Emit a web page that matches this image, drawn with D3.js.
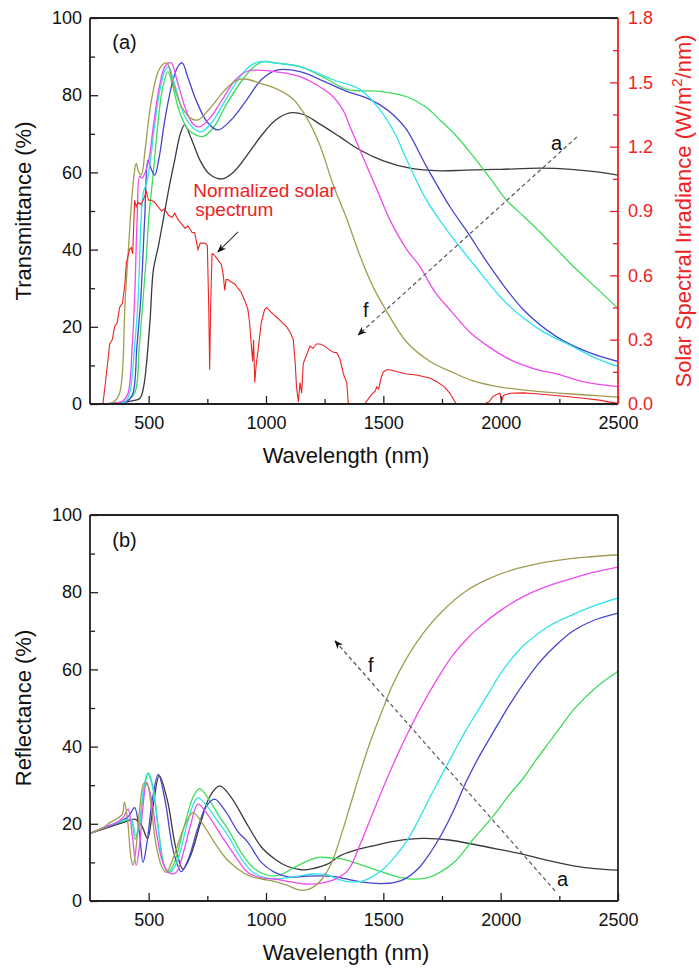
<!DOCTYPE html>
<html>
<head>
<meta charset="utf-8">
<script src="https://cdn.jsdelivr.net/npm/d3@7"></script>
<style>
  body { margin: 0; background: #fff; }
  svg text { font-family: "Liberation Sans", Arial, sans-serif; }
</style>
</head>
<body>
<div id="chart"></div>
<script>
// 1: DATA (wavelength nm, value)
const transA = [[300,0],[380,0.3],[430,0.8],[463,1.5],[480,5],[491,10.6],[506,21.8],[520,34.7],[541,40.8],[562,47.7],[590,57],[611,63.2],[635,70],[653,72.3],[680,69],[720,63],[760,59.5],[810,58.3],[860,60],[920,64.5],[980,69.5],[1040,73.5],[1102,75.4],[1160,75],[1230,72.5],[1315,69.2],[1400,65.8],[1500,63],[1614,61.1],[1741,60.4],[1850,60.6],[2000,60.8],[2168,61.1],[2300,60.8],[2400,60.2],[2500,59.3]];
const transB = [[300,0],[360,0.2],[400,0.6],[440,2.8],[460,15],[476,27],[490,38],[501,48.5],[520,60],[540,73],[560,82],[582,86.1],[600,83],[630,76],[670,71],[731,69.3],[780,72],[830,77.5],[900,84],[950,87.5],[988,88.7],[1050,88.3],[1145,87.4],[1250,84.5],[1344,81.5],[1486,81],[1600,79.6],[1680,77],[1741,73.6],[1810,69.5],[1884,64.1],[1955,58.5],[2025,52.8],[2100,48.5],[2168,44.5],[2240,40],[2310,35.6],[2400,30.5],[2500,24.8]];
const transC = [[300,0],[360,0.2],[410,0.8],[433,2.8],[450,15],[466,27],[483,48],[497,63.2],[510,61],[526,59.3],[545,64],[570,74],[600,83],[625,87.5],[643,88.4],[665,85],[700,79],[750,73],[795,71],[850,73.5],[920,79],[980,84],[1045,86.5],[1145,86.1],[1250,83.5],[1344,81],[1420,79.5],[1486,77.5],[1550,74.5],[1600,71],[1684,61.5],[1784,51.1],[1862,44.2],[1955,35.6],[2097,24.4],[2239,17.4],[2370,13.5],[2500,11]];
const transD = [[300,0],[360,0.2],[400,0.6],[419,2.8],[440,15],[455,27],[468,48],[478,55],[490,57],[505,62],[525,72],[550,82],[570,86.5],[585,87.4],[610,83],[650,75],[690,71.5],[724,70.5],[770,73],[820,78],[880,84],[930,87.5],[975,88.7],[1040,88.3],[1145,87.4],[1286,84],[1400,81.5],[1486,76.2],[1550,70],[1600,63.2],[1684,52.8],[1770,45.1],[1882,36.4],[2025,26.1],[2168,19.2],[2310,14.8],[2400,12],[2500,9.7]];
const transE = [[300,0],[350,0.2],[390,0.8],[412,2.8],[430,15],[440,27],[451,48],[462,59],[472,58.5],[485,60],[500,63],[520,72],[545,82],[570,87.5],[596,88.4],[620,84],[660,76],[690,72.5],[717,71.8],[760,74],[810,78.5],[870,84],[920,86.2],[960,86.5],[1050,86],[1145,84.8],[1220,82.5],[1286,79.6],[1328,76.2],[1358,71.8],[1420,63],[1480,54.5],[1528,47.7],[1600,40],[1656,35.6],[1720,29],[1790,24],[1870,18.5],[1950,14.8],[2040,11.5],[2150,9],[2239,7.8],[2350,5.8],[2500,4.5]];
const transF = [[300,0],[350,0.5],[376,2.8],[400,27],[422,48],[437,59],[447,62.3],[458,60],[469,59.3],[485,66],[510,78],[540,86],[565,88.2],[579,88.3],[600,84],[640,77],[680,74],[710,73.6],[760,76.5],[820,81],[870,83.7],[910,84.2],[980,83],[1050,81.5],[1115,79],[1170,74.5],[1230,67],[1285,57],[1344,48],[1400,38.5],[1456,30.4],[1500,25.5],[1600,16],[1700,11],[1784,8.5],[1882,6],[2000,4.4],[2168,3.2],[2350,2.4],[2500,1.8]];

const reflA = [[250,17.5],[300,18.5],[350,19.5],[400,20.5],[440,21.2],[470,19.5],[495,16.2],[520,25],[545,32.5],[580,26],[615,14],[646,8.3],[680,12],[720,20],[760,27],[802,29.8],[850,27],[923,19.5],[980,14],[1037,10.9],[1090,9],[1150,8.1],[1200,8.4],[1264,9.6],[1315,11.7],[1400,13.5],[1457,14.3],[1550,15.5],[1670,16.2],[1780,15.8],[1883,14.7],[2000,13.3],[2096,12.1],[2200,10.5],[2310,9.1],[2400,8.4],[2500,8]];
const reflB = [[250,17.5],[300,18.7],[350,19.8],[400,20.8],[425,21],[442,16],[460,20],[480,29],[499,33.2],[520,29],[545,17],[565,9.5],[582,7.4],[610,10],[650,19],[690,27],[717,29.1],[760,26],[800,22],[838,18.6],[900,12],[952,8.3],[1000,6.8],[1037,6.5],[1080,7.3],[1122,8.7],[1170,10.2],[1222,11.3],[1270,11.2],[1321,10.9],[1400,9.5],[1457,8.3],[1530,6.8],[1600,5.8],[1680,5.9],[1741,7.4],[1810,10.5],[1883,16],[1968,22],[2030,27],[2096,31.8],[2150,36.5],[2208,41.2],[2260,45.5],[2310,49.5],[2400,55],[2500,59.5]];
const reflC = [[250,17.5],[300,18.7],[350,19.8],[384,20.7],[415,22],[440,24.2],[460,18],[476,10],[495,16],[515,26],[541,32.8],[570,26],[605,13],[639,7.6],[670,11],[710,19],[745,24.5],[781,26.4],[830,23],[880,18],[923,15.2],[980,10],[1037,7.4],[1100,6.2],[1160,6.4],[1236,6.5],[1290,6.3],[1350,5.6],[1420,4.8],[1486,4.5],[1550,4.8],[1600,6],[1650,8.5],[1700,12.5],[1750,17.5],[1800,23.5],[1850,30.5],[1900,36.5],[1950,41.8],[2000,47],[2050,52],[2100,56.5],[2168,62],[2240,66.5],[2310,70],[2400,72.8],[2500,74.6]];
const reflD = [[250,17.5],[300,18.8],[350,20],[400,21],[425,21.2],[445,17],[462,20],[478,29],[495,33],[515,30],[540,19],[562,10],[590,7.4],[620,10],[660,19],[690,25],[710,26.8],[750,24.5],[790,21],[838,16.9],[900,10.5],[950,7.2],[1037,5.7],[1120,6.3],[1200,7],[1260,6.8],[1300,5.8],[1349,5],[1400,5],[1450,6.2],[1500,8.3],[1550,11.5],[1600,15.5],[1650,21],[1700,27],[1750,32.8],[1800,38.5],[1850,44],[1900,49],[1950,54],[2000,59],[2050,63],[2100,66.3],[2200,71],[2300,74],[2400,76.5],[2500,78.5]];
const reflE = [[250,17.5],[300,18.8],[350,20],[390,21.5],[412,23.8],[430,17],[447,9.3],[462,15],[475,24],[491,30.7],[510,27],[535,17],[560,10],[590,7.2],[617,7.4],[650,13],[680,20],[710,25.1],[750,22.5],[810,16.9],[870,11.5],[923,7.4],[980,6],[1037,5.7],[1100,5],[1164,4.4],[1220,4.5],[1264,5],[1300,5.8],[1350,8],[1400,14.5],[1450,22],[1500,29.5],[1550,36.5],[1600,43],[1650,49],[1700,54.5],[1750,59.5],[1800,64],[1850,67.5],[1900,70.5],[2000,75.3],[2100,79],[2200,81.6],[2300,83.5],[2400,85.2],[2500,86.5]];
const reflF = [[250,17.5],[300,18.8],[340,20.5],[370,21.5],[388,22.5],[397,25.6],[410,21],[425,11],[433,9.3],[445,13],[462,24],[480,30.5],[495,30],[510,25],[530,15],[555,9],[575,7.4],[610,12],[650,19],[689,22.9],[730,20],[781,15.1],[830,11],[880,8.3],[930,6.5],[980,5.7],[1040,5],[1094,4],[1144,2.8],[1190,3.2],[1236,5.5],[1280,10],[1320,17],[1360,25],[1400,33],[1443,41],[1490,48.5],[1540,56],[1600,63],[1670,69.4],[1750,75],[1850,80.2],[1950,83.5],[2050,85.8],[2150,87.3],[2250,88.3],[2350,89],[2500,89.7]];

// normalized solar spectrum, W/m^2/nm (right axis)
const solar = [[280,0],[305,0],[318,0.12],[334,0.28],[345,0.3],[355,0.36],[366,0.38],[376,0.45],[388,0.47],[398,0.55],[405,0.66],[412,0.69],[418,0.72],[426,0.73],[432,0.7],[440,0.95],[447,0.92],[455,0.94],[468,0.93],[480,0.96],[490,0.99],[500,0.95],[512,0.95],[526,0.94],[540,0.92],[555,0.9],[568,0.91],[585,0.88],[600,0.87],[611,0.89],[625,0.86],[640,0.84],[655,0.82],[668,0.83],[685,0.8],[696,0.8],[710,0.72],[720,0.75],[738,0.75],[750,0.74],[756,0.45],[760,0.16],[764,0.45],[770,0.7],[774,0.7],[790,0.68],[810,0.65],[818,0.6],[824,0.53],[830,0.58],[838,0.58],[850,0.57],[867,0.56],[880,0.54],[895,0.52],[910,0.48],[923,0.44],[930,0.38],[937,0.28],[943,0.2],[947,0.3],[952,0.1],[958,0.18],[966,0.25],[980,0.38],[994,0.44],[1003,0.45],[1020,0.43],[1050,0.4],[1088,0.36],[1105,0.33],[1116,0.3],[1124,0.2],[1130,0.08],[1138,0.01],[1145,0.1],[1152,0.05],[1159,0.19],[1170,0.22],[1187,0.27],[1200,0.26],[1215,0.28],[1230,0.28],[1250,0.27],[1273,0.25],[1290,0.24],[1301,0.24],[1315,0.21],[1330,0.14],[1344,0.1],[1351,0],[1420,0],[1440,0.03],[1455,0.05],[1465,0.06],[1472,0.08],[1480,0.07],[1490,0.12],[1500,0.15],[1515,0.16],[1528,0.16],[1560,0.15],[1600,0.14],[1642,0.135],[1700,0.12],[1727,0.105],[1760,0.08],[1784,0.05],[1800,0.02],[1812,0],[1930,0],[1950,0.01],[1968,0.035],[1985,0.045],[1997,0.05],[2005,0.015],[2012,0.04],[2040,0.05],[2096,0.052],[2150,0.048],[2210,0.042],[2280,0.035],[2352,0.027],[2420,0.018],[2460,0.01],[2494,0.004],[2500,0]];

const seriesNames = ["a", "b", "c", "d", "e", "f"];
const seriesColors = ["#3a3a3a", "#3ddc5c", "#4545d0", "#2fe3ea", "#ee4aee", "#a09c50"];
const xMajor = [500, 1000, 1500, 2000, 2500];
const xMinor = [750, 1250, 1750, 2250];
const yMajor = [0, 20, 40, 60, 80, 100];
const yMinor = [10, 30, 50, 70, 90];
const rMajor = [0, 0.3, 0.6, 0.9, 1.2, 1.5, 1.8];
const rMinor = [0.15, 0.45, 0.75, 1.05, 1.35, 1.65];

// 2: GLOBALS
const width = 528;
const height = 386;
const red = "#ee2222";

const svg = d3.select("#chart").append("svg")
    .attr("width", 699)
    .attr("height", 975);

const defs = svg.append("defs");
defs.append("marker")
    .attr("id", "head")
    .attr("viewBox", "0 0 10 10")
    .attr("refX", 9).attr("refY", 5)
    .attr("markerWidth", 9).attr("markerHeight", 9)
    .attr("markerUnits", "userSpaceOnUse")
    .attr("orient", "auto")
    .append("path")
    .attr("d", "M0,1 L10,5 L0,9 L3,5 Z")
    .attr("fill", "#111");

const x = d3.scaleLinear().domain([250, 2500]).range([0, width]);

function makePanel(top, id) {
    const g = svg.append("g").attr("transform", `translate(90,${top})`);
    defs.append("clipPath").attr("id", id)
        .append("rect").attr("width", width).attr("height", height);
    return g;
}

function drawAxes(g, y, yLabel) {
    // bottom axis
    g.append("g").attr("transform", `translate(0,${height})`)
        .call(d3.axisBottom(x).tickValues(xMajor).tickSizeInner(-8).tickSizeOuter(0).tickPadding(12).tickFormat(d3.format("d")))
        .call(a => a.select(".domain").remove());
    g.append("g").attr("transform", `translate(0,${height})`)
        .call(d3.axisBottom(x).tickValues(xMinor).tickSizeInner(-5).tickSizeOuter(0).tickFormat(""))
        .call(a => a.select(".domain").remove());
    // left axis
    g.append("g")
        .call(d3.axisLeft(y).tickValues(yMajor).tickSizeInner(-8).tickSizeOuter(0).tickPadding(8))
        .call(a => a.select(".domain").remove());
    g.append("g")
        .call(d3.axisLeft(y).tickValues(yMinor).tickSizeInner(-5).tickSizeOuter(0).tickFormat(""))
        .call(a => a.select(".domain").remove());

    g.selectAll(".tick text").attr("font-size", 18).attr("fill", "#111")
        .attr("font-family", "'Liberation Sans', Arial, sans-serif");
    g.selectAll(".tick line").attr("stroke", "#222").attr("stroke-width", 1.3);

    g.append("text")
        .attr("transform", `translate(-59,${height / 2}) rotate(-90)`)
        .attr("text-anchor", "middle")
        .attr("font-size", 22)
        .attr("fill", "#111")
        .text(yLabel);

    g.append("text")
        .attr("x", width / 2 - 8)
        .attr("y", height + 59)
        .attr("text-anchor", "middle")
        .attr("font-size", 22)
        .attr("fill", "#111")
        .text("Wavelength (nm)");
}

function drawCurves(g, y, list, clipId) {
    const line = d3.line()
        .x(d => x(d[0]))
        .y(d => y(d[1]))
        .curve(d3.curveCatmullRom.alpha(0.5));
    list.forEach((values, i) => {
        g.append("path")
            .datum(values)
            .attr("class", "line")
            .attr("clip-path", `url(#${clipId})`)
            .attr("fill", "none")
            .attr("stroke", seriesColors[i])
            .attr("stroke-width", 1.3)
            .attr("d", line)
            .attr("data-legend", seriesNames[i]);
    });
}

function frame(g, rightColor) {
    g.append("line").attr("x1", 0).attr("x2", width).attr("y1", 0).attr("y2", 0)
        .attr("stroke", "#222").attr("stroke-width", 1.8);
    g.append("line").attr("x1", 0).attr("x2", width).attr("y1", height).attr("y2", height)
        .attr("stroke", "#222").attr("stroke-width", 1.8);
    g.append("line").attr("x1", 0).attr("x2", 0).attr("y1", 0).attr("y2", height)
        .attr("stroke", "#222").attr("stroke-width", 1.8);
    g.append("line").attr("x1", width).attr("x2", width).attr("y1", 0).attr("y2", height)
        .attr("stroke", rightColor).attr("stroke-width", 1.8);
}

function dashedArrow(g, x1, y1, x2, y2) {
    g.append("line")
        .attr("x1", x1).attr("y1", y1).attr("x2", x2).attr("y2", y2)
        .attr("stroke", "#555")
        .attr("stroke-width", 1.2)
        .attr("stroke-dasharray", "4,3")
        .attr("marker-end", "url(#head)");
}

function label(g, px, py, txt, size, color) {
    g.append("text").attr("x", px).attr("y", py)
        .attr("font-size", size).attr("fill", color || "#111").text(txt);
}

// 3: PANEL (a) - transmittance
const gA = makePanel(18, "clipA");
const yT = d3.scaleLinear().domain([0, 100]).range([height, 0]);
const yS = d3.scaleLinear().domain([0, 1.8]).range([height, 0]);

drawCurves(gA, yT, [transA, transB, transC, transD, transE, transF], "clipA");

gA.append("path")
    .datum(solar)
    .attr("clip-path", "url(#clipA)")
    .attr("fill", "none")
    .attr("stroke", red)
    .attr("stroke-width", 1.1)
    .attr("d", d3.line().x(d => x(d[0])).y(d => yS(d[1])));

drawAxes(gA, yT, "Transmittance (%)");

// right axis (solar irradiance)
const rightAxis = gA.append("g").attr("transform", `translate(${width},0)`);
rightAxis.call(d3.axisRight(yS).tickValues(rMajor).tickSizeInner(-8).tickSizeOuter(0).tickPadding(10).tickFormat(d3.format(".1f")))
    .call(a => a.select(".domain").remove());
rightAxis.append("g")
    .call(d3.axisRight(yS).tickValues(rMinor).tickSizeInner(-5).tickSizeOuter(0).tickFormat(""))
    .call(a => a.select(".domain").remove());
rightAxis.selectAll(".tick text").attr("font-size", 18).attr("fill", red)
    .attr("font-family", "'Liberation Sans', Arial, sans-serif");
rightAxis.selectAll(".tick line").attr("stroke", red).attr("stroke-width", 1.3);

const rTitle = gA.append("text")
    .attr("transform", `translate(${width + 73},${height / 2}) rotate(-90)`)
    .attr("text-anchor", "middle")
    .attr("font-size", 22)
    .attr("fill", red);
rTitle.append("tspan").text("Solar Spectral Irradiance (W/m");
rTitle.append("tspan").attr("font-size", 15).attr("dy", -9).text("2");
rTitle.append("tspan").attr("dy", 9).text("/nm)");

frame(gA, red);

label(gA, x(345), yT(92), "(a)", 20);
gA.append("text").attr("x", x(690)).attr("y", yT(53.6))
    .attr("font-size", 19).attr("fill", red)
    .selectAll("tspan").data(["Normalized solar", "spectrum"]).enter()
    .append("tspan")
    .attr("x", (d, i) => x(690) + i * 2)
    .attr("dy", (d, i) => i === 0 ? 0 : 19)
    .text(d => d);

gA.append("line")
    .attr("x1", x(881)).attr("y1", yT(44.6))
    .attr("x2", x(795)).attr("y2", yT(39.4))
    .attr("stroke", "#333").attr("stroke-width", 1.1)
    .attr("marker-end", "url(#head)");

dashedArrow(gA, x(2325), yT(69.2), x(1393), yT(17.9));
label(gA, x(2214), yT(65.8), "a", 20);
label(gA, x(1413), yT(22.5), "f", 20);

// 4: PANEL (b) - reflectance
const gB = makePanel(515, "clipB");
const yR = d3.scaleLinear().domain([0, 100]).range([height, 0]);

drawCurves(gB, yR, [reflA, reflB, reflC, reflD, reflE, reflF], "clipB");
drawAxes(gB, yR, "Reflectance (%)");
frame(gB, "#222");

label(gB, x(345), yR(91.7), "(b)", 20);
dashedArrow(gB, x(2232), yR(2.6), x(1294), yR(67.4));
label(gB, x(1435), yR(59.4), "f", 20);
label(gB, x(2240), yR(3.9), "a", 20);
</script>
</body>
</html>
